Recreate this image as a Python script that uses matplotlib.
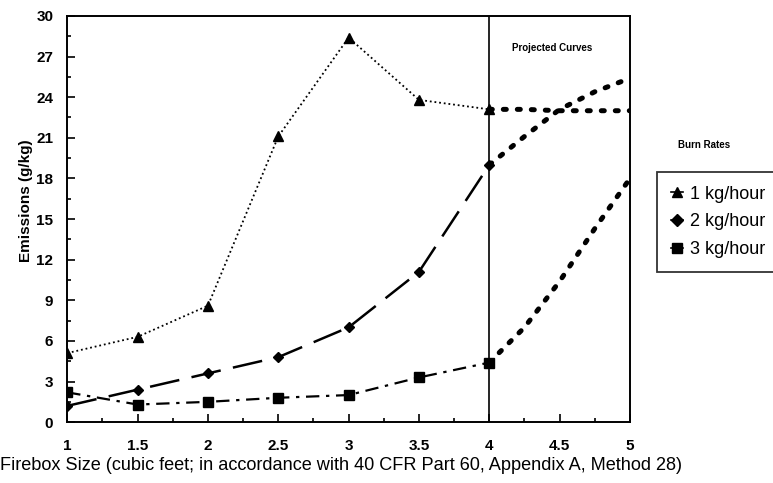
import matplotlib.pyplot as plt
from matplotlib.lines import Line2D
from matplotlib.ticker import MultipleLocator, FormatStrFormatter

plt.rcParams['font.family'] = ['Liberation Sans', 'DejaVu Sans']

# Measured data (firebox size in cubic feet vs emissions g/kg)
sizes = [1, 1.5, 2, 2.5, 3, 3.5, 4]
rate1 = [5.1, 6.3, 8.6, 21.1, 28.4, 23.8, 23.1]
rate2 = [1.2, 2.4, 3.6, 4.8, 7.0, 11.1, 19.0]
rate3 = [2.2, 1.3, 1.5, 1.8, 2.0, 3.3, 4.4]

# Projected curves beyond 4 cubic feet
proj_sizes = [4, 4.25, 4.5, 4.75, 5]
proj1 = [23.1, 23.1, 23.0, 23.0, 23.0]
proj2 = [19.0, 21.1, 23.1, 24.4, 25.4]
proj3 = [4.4, 7.0, 10.4, 14.3, 18.0]

labels = ['1 kg/hour', '2 kg/hour', '3 kg/hour']
markers = ['^', 'D', 's']

fig = plt.figure(figsize=(7.73, 4.83), dpi=100)
ax = fig.add_axes([0.087, 0.126, 0.728, 0.841])

# measured lines
ax.plot(sizes, rate1, color='black', lw=1.3, linestyle=(0, (1, 1.6)),
        marker='^', markersize=7.5)
ax.plot(sizes, rate2, color='black', lw=1.8, linestyle=(0, (12, 5)),
        marker='D', markersize=5)
ax.plot(sizes, rate3, color='black', lw=1.6, linestyle=(0, (6, 3, 1.5, 3)),
        marker='s', markersize=7.5)

# projected lines (heavy dots)
for ys in [proj1, proj2, proj3]:
    ax.plot(proj_sizes, ys, color='black', lw=3.6, linestyle=(0, (0.6, 2.2)),
            dash_capstyle='round')

ax.axvline(4, color='black', lw=1.2)
ax.text(4.45, 27.6, 'Projected Curves', fontsize=7, fontweight='bold',
        ha='center', va='center')

ax.set_xlim(1, 5)
ax.set_ylim(0, 30)
ax.xaxis.set_major_locator(MultipleLocator(0.5))
ax.xaxis.set_minor_locator(MultipleLocator(0.25))
ax.xaxis.set_major_formatter(FormatStrFormatter('%g'))
ax.yaxis.set_major_locator(MultipleLocator(3))
ax.yaxis.set_minor_locator(MultipleLocator(1.5))
ax.tick_params(which='both', direction='in', top=False, right=False,
               labelsize=11, width=1.2)
ax.tick_params(which='major', length=6)
ax.tick_params(axis='x', which='major', pad=12)
ax.tick_params(axis='y', which='major', pad=10)
ax.tick_params(which='minor', length=3)
for lab in ax.get_xticklabels() + ax.get_yticklabels():
    lab.set_fontweight('bold')
for sp in ax.spines.values():
    sp.set_linewidth(1.4)

ax.set_xlabel('Firebox Size (cubic feet; in accordance with 40 CFR Part 60, Appendix A, Method 28)',
              fontsize=13.1)
ax.xaxis.set_label_coords(0.487, -0.085)
ax.set_ylabel('Emissions (g/kg)', fontsize=11, fontweight='bold')
ax.yaxis.set_label_coords(-0.06, 0.545)

handles = [Line2D([0], [0], color='black', marker=m, markersize=6.5, lw=1.2)
           for m in markers]
fig.text(704 / 773, 1 - 145 / 483, 'Burn Rates', fontsize=7,
         fontweight='bold', ha='center', va='center')
leg = fig.legend(handles, labels, loc='upper left',
                 bbox_to_anchor=(657 / 773, 1 - 172 / 483),
                 handlelength=0.7, handletextpad=0.4, fontsize=13,
                 frameon=True, fancybox=False, edgecolor='black',
                 borderpad=0.75, labelspacing=0.6, borderaxespad=0)
leg.get_frame().set_linewidth(1.3)

fig.savefig('out.png', dpi=100)
